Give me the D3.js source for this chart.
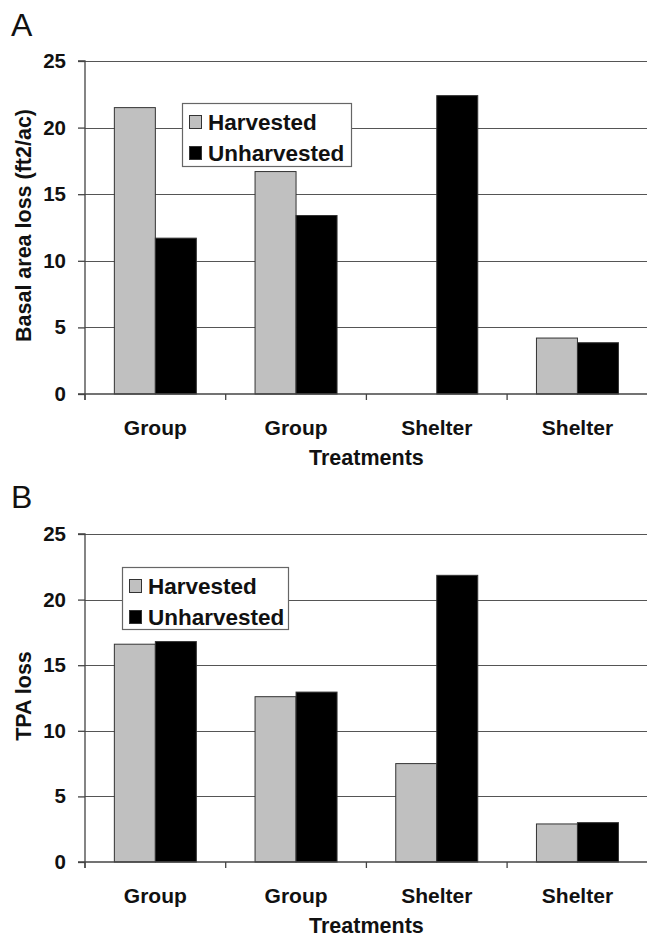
<!DOCTYPE html>
<html>
<head>
<meta charset="utf-8">
<script src="https://cdn.jsdelivr.net/npm/d3@7"></script>
<style>
  html, body { margin: 0; padding: 0; background: #fff; }
  svg { display: block; font-family: "Liberation Sans", Arial, sans-serif; }
</style>
</head>
<body>
<svg id="chart" width="647" height="939"></svg>
<script>
// ---- data ----
const categories = ["Group", "Group", "Shelter", "Shelter"];
const seriesNames = ["Harvested", "Unharvested"];
const basalHarvested = [21.5, 16.7, 0, 4.2];
const basalUnharvested = [11.7, 13.4, 22.4, 3.85];
const tpaHarvested = [16.6, 12.6, 7.5, 2.9];
const tpaUnharvested = [16.8, 12.95, 21.85, 3.0];
const yTicks = [0, 5, 10, 15, 20, 25];
const xTitle = "Treatments";

const colors = { Harvested: "#c0c0c0", Unharvested: "#000000" };

const svg = d3.select("#chart");

function panel(opts) {
  const { letter, letterY, top, bottom, yTitle, harv, unharv, legend } = opts;
  const left = 85, right = 647.8;
  const g = svg.append("g");

  const idx = categories.map((_, i) => i);
  const x0 = d3.scaleBand().domain(idx).range([left, right]).paddingInner(0).paddingOuter(0);
  const x1 = d3.scaleBand().domain(seriesNames).range([0, x0.bandwidth()]).paddingInner(0).paddingOuter(0.716);
  const y = d3.scaleLinear().domain([0, 25]).range([bottom, top]);

  // panel letter
  g.append("text").attr("x", 11).attr("y", letterY)
    .attr("font-size", 32).attr("fill", "#111").text(letter);

  // gridlines
  g.append("g").selectAll("line").data(yTicks.filter(d => d > 0)).join("line")
    .attr("x1", left).attr("x2", right)
    .attr("y1", d => Math.round(y(d)) + 0.5).attr("y2", d => Math.round(y(d)) + 0.5)
    .attr("stroke", "#555").attr("stroke-width", 1.2);

  // bars
  const rows = idx.map(i => ({ i, vals: [{ s: "Harvested", v: harv[i] }, { s: "Unharvested", v: unharv[i] }] }));
  const grp = g.append("g").selectAll("g").data(rows).join("g")
    .attr("transform", d => `translate(${x0(d.i)},0)`);
  grp.selectAll("rect").data(d => d.vals.filter(e => e.v > 0)).join("rect")
    .attr("x", d => x1(d.s)).attr("width", x1.bandwidth())
    .attr("y", d => y(d.v)).attr("height", d => y(0) - y(d.v))
    .attr("fill", d => colors[d.s])
    .attr("stroke", "#333").attr("stroke-width", 1);

  // y axis
  const yAxis = d3.axisLeft(y).tickValues(yTicks).tickSize(7).tickPadding(12).tickFormat(d3.format("d"));
  const ya = g.append("g").attr("transform", `translate(${left},0)`).call(yAxis);
  ya.select(".domain").attr("stroke", "#444").attr("stroke-width", 1.3).attr("d", `M-7,${top}H0V${bottom + 6}`);
  ya.selectAll(".tick line").attr("stroke", "#444").attr("stroke-width", 1.3);
  ya.selectAll(".tick text").attr("font-size", 20.5).attr("font-weight", "bold").attr("fill", "#111")
    .attr("font-family", "Liberation Sans, Arial, sans-serif");

  // x axis: labels at band centers, ticks at band boundaries
  const xAxis = d3.axisBottom(x0).tickSize(0).tickPadding(26).tickFormat(i => categories[i]);
  const xa = g.append("g").attr("transform", `translate(0,${bottom})`).call(xAxis);
  xa.select(".domain").attr("stroke", "#444").attr("stroke-width", 1.3).attr("d", `M${left - 7},0H${right}`);
  xa.selectAll(".tick text").attr("font-size", 21).attr("font-weight", "bold").attr("fill", "#111")
    .attr("font-family", "Liberation Sans, Arial, sans-serif");
  xa.append("g").selectAll("line").data(idx.concat([idx.length])).join("line")
    .attr("x1", i => i < idx.length ? x0(i) : right).attr("x2", i => i < idx.length ? x0(i) : right)
    .attr("y1", 0).attr("y2", 6).attr("stroke", "#444").attr("stroke-width", 1.3);

  // axis titles
  g.append("text").attr("x", (left + right) / 2).attr("y", bottom + opts.xTitleOff)
    .attr("text-anchor", "middle").attr("font-size", 21.5).attr("font-weight", "bold").attr("fill", "#111")
    .text(xTitle);
  g.append("text").attr("transform", `translate(31,${(top + bottom) / 2 - 2}) rotate(-90)`)
    .attr("text-anchor", "middle").attr("font-size", 21.5).attr("font-weight", "bold").attr("fill", "#111")
    .text(yTitle);

  // legend
  const lg = g.append("g").attr("transform", `translate(${legend.x},${legend.y})`);
  lg.append("rect").attr("x", 0.5).attr("y", 0.5).attr("width", legend.w).attr("height", legend.h)
    .attr("fill", "#fff").attr("stroke", "#666").attr("stroke-width", 1.2);
  seriesNames.forEach((s, k) => {
    lg.append("rect").attr("x", 7.5).attr("y", 12.5 + k * 31).attr("width", 12).attr("height", 13)
      .attr("fill", colors[s]).attr("stroke", "#333").attr("stroke-width", 1);
    lg.append("text").attr("x", 26).attr("y", 26.5 + k * 31)
      .attr("font-size", 22.5).attr("font-weight", "bold").attr("fill", "#111").text(s);
  });
}

panel({ letter: "A", letterY: 36, top: 61, bottom: 394, yTitle: "Basal area loss (ft2/ac)",
  harv: basalHarvested, unharv: basalUnharvested, xTitleOff: 71,
  legend: { x: 182, y: 103, w: 169, h: 63 } });

panel({ letter: "B", letterY: 508, top: 534, bottom: 862, yTitle: "TPA loss",
  harv: tpaHarvested, unharv: tpaUnharvested, xTitleOff: 71,
  legend: { x: 122, y: 567, w: 166, h: 62 } });
</script>
</body>
</html>
